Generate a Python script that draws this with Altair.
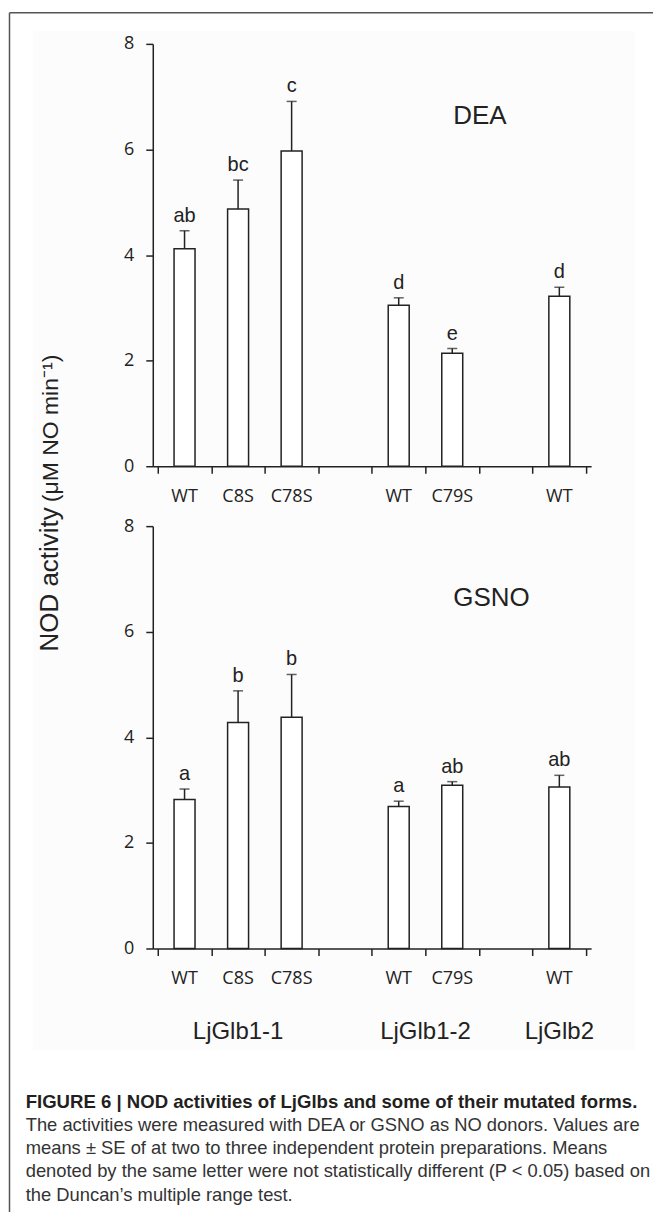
import altair as alt
import pandas as pd

# ---------------- data ----------------
slots = [0, 1, 2, 4, 5, 7]
variants = ["WT", "C8S", "C78S", "WT", "C79S", "WT"]
groups = ["LjGlb1-1", "LjGlb1-1", "LjGlb1-1", "LjGlb1-2", "LjGlb1-2", "LjGlb2"]
n_slots = 8

dea_mean = [4.12, 4.87, 5.97, 3.05, 2.14, 3.22]
dea_se = [0.34, 0.55, 0.94, 0.14, 0.09, 0.17]
dea_letters = ["ab", "bc", "c", "d", "e", "d"]

gsno_mean = [2.82, 4.28, 4.38, 2.69, 3.09, 3.06]
gsno_se = [0.20, 0.60, 0.81, 0.10, 0.07, 0.22]
gsno_letters = ["a", "b", "b", "a", "ab", "ab"]

y_ticks = [0, 2, 4, 6, 8]

title_main = "NOD activity"
title_unit = "(\u03bcM NO min\u207b\u00b9)"

caption_title = "FIGURE 6 | NOD activities of LjGlbs and some of their mutated forms."
caption_lines = [
    "The activities were measured with DEA or GSNO as NO donors. Values are",
    "means \u00b1 SE of at two to three independent protein preparations. Means",
    "denoted by the same letter were not statistically different (P < 0.05) based on",
    "the Duncan\u2019s multiple range test.",
]

# ---------------- style ----------------
INK = "#222222"
ARIAL = "Liberation Sans"
TICKFONT = "Open Sans"
W, H = 439, 423

xaxis = alt.Axis(
    values=list(range(n_slots + 1)), labels=False,
    tickSize=7, tickWidth=1.5, tickColor=INK,
    domainColor=INK, domainWidth=1.5,
    grid=False, title=None, zindex=1,
)
yaxis = alt.Axis(
    values=y_ticks, format="d",
    tickSize=7, tickWidth=1.5, tickColor=INK,
    domainColor=INK, domainWidth=1.5,
    labelFont=TICKFONT, labelFontSize=18, labelColor=INK, labelPadding=12,
    grid=False, title=None, zindex=1,
)

one = pd.DataFrame({"k": [0]})


def panel(mean, se, letters, name):
    df = pd.DataFrame({
        "pos": [s + 0.5 for s in slots],
        "variant": variants,
        "group": groups,
        "mean": mean,
        "se": se,
        "letter": letters,
    })
    df["upper"] = df["mean"] + df["se"]
    base = alt.Chart(df)
    xs = alt.Scale(domain=[0, n_slots], nice=False, zero=False)
    ys = alt.Scale(domain=[0, 8], nice=False)
    bars = base.mark_bar(size=21, fill="white", stroke=INK, strokeWidth=1.5).encode(
        x=alt.X("pos:Q", scale=xs, axis=xaxis, title=None),
        y=alt.Y("mean:Q", scale=ys, axis=yaxis, title=None),
    )
    err = base.mark_rule(color=INK, strokeWidth=1.5).encode(
        x=alt.X("pos:Q", title=None), y=alt.Y("mean:Q", title=None), y2="upper:Q"
    )
    caps = base.mark_tick(orient="horizontal", size=10, thickness=1.5, color=INK).encode(
        x=alt.X("pos:Q", title=None), y=alt.Y("upper:Q", title=None)
    )
    lets = base.mark_text(baseline="alphabetic", dy=-9, fontSize=20, font=ARIAL, color=INK).encode(
        x=alt.X("pos:Q", title=None), y=alt.Y("upper:Q", title=None), text="letter:N"
    )
    ticklabels = base.mark_text(baseline="middle", fontSize=18, font=TICKFONT, color=INK).encode(
        x=alt.X("pos:Q", title=None), y=alt.value(H + 31), text="variant:N"
    )
    lab = alt.Chart(pd.DataFrame({"t": [name]})).mark_text(
        align="left", baseline="middle", fontSize=26, font=ARIAL, color=INK
    ).encode(x=alt.value(301), y=alt.value(72), text="t:N")
    return base, [bars, err, caps, lets, ticklabels, lab]


# ---------------- top panel ----------------
top_base, top_layers = panel(dea_mean, dea_se, dea_letters, "DEA")

bg = alt.Chart(one).mark_rect(fill="#fcfcfc").encode(
    x=alt.value(-120), x2=alt.value(483), y=alt.value(-13), y2=alt.value(1008)
)
frame_left = alt.Chart(one).mark_rule(color="#555555", strokeWidth=1.5).encode(
    x=alt.value(-143.5), y=alt.value(-31.3), y2=alt.value(1170)
)
frame_top = alt.Chart(one).mark_rule(color="#555555", strokeWidth=1.5).encode(
    x=alt.value(-143.5), x2=alt.value(501), y=alt.value(-31.3)
)
ytitle_main = alt.Chart(pd.DataFrame({"t": [title_main]})).mark_text(
    angle=270, align="left", baseline="alphabetic", fontSize=26, font=ARIAL, color=INK
).encode(x=alt.value(-95), y=alt.value(608.5), text="t:N")
ytitle_unit = alt.Chart(pd.DataFrame({"t": [title_unit]})).mark_text(
    angle=270, align="left", baseline="alphabetic", fontSize=23, font=ARIAL, color=INK
).encode(x=alt.value(-95), y=alt.value(459), text="t:N")

top = alt.layer(bg, frame_left, frame_top, *top_layers, ytitle_main, ytitle_unit).properties(
    width=W, height=H
)

# ---------------- bottom panel ----------------
bot_base, bot_layers = panel(gsno_mean, gsno_se, gsno_letters, "GSNO")

group_labels = bot_base.transform_aggregate(center="mean(pos)", groupby=["group"]).mark_text(
    baseline="middle", fontSize=24, font=ARIAL, color=INK
).encode(x=alt.X("center:Q", title=None), y=alt.value(507), text="group:N")

cap_layers = [
    alt.Chart(pd.DataFrame({"t": [caption_title]})).mark_text(
        align="left", baseline="middle", fontSize=18.6, font=ARIAL, fontWeight="bold", color="#231f20"
    ).encode(x=alt.value(-127.3), y=alt.value(576.3), text="t:N")
]
for i, line in enumerate(caption_lines):
    cap_layers.append(
        alt.Chart(pd.DataFrame({"t": [line]})).mark_text(
            align="left", baseline="middle", fontSize=18.4, font=ARIAL, color="#333333"
        ).encode(x=alt.value(-127.3), y=alt.value(576.3 + 23.3 * (i + 1)), text="t:N")
    )

bottom = alt.layer(*bot_layers, group_labels, *cap_layers).properties(width=W, height=H)

chart = (
    alt.vconcat(top, bottom, spacing=60)
    .properties(bounds="flush", padding={"left": 0, "top": 2, "right": 0, "bottom": 0},
                background="white")
    .configure_view(stroke=None)
)

chart.save("out.html", embed_options={"renderer": "svg", "actions": False})
